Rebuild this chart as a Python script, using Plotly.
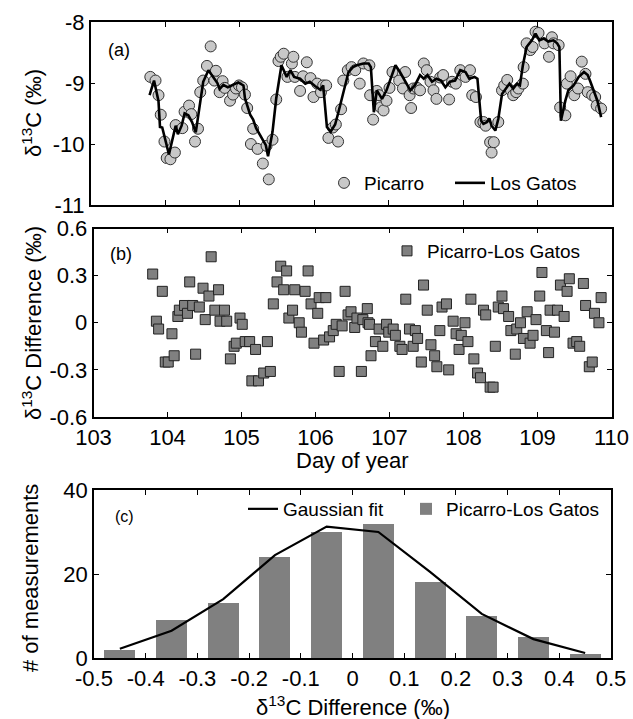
import plotly.graph_objects as go

# ---------------- data ----------------
picarro_day = [103.80, 103.87, 103.91, 103.94, 103.99, 104.02, 104.07, 104.13, 104.14, 104.23,
               104.26, 104.32, 104.35, 104.40, 104.44, 104.47, 104.51, 104.56, 104.61, 104.66,
               104.68, 104.73, 104.77, 104.80, 104.87, 104.91, 104.95, 104.99, 105.03, 105.07,
               105.10, 105.15, 105.18, 105.24, 105.31, 105.36, 105.39, 105.44, 105.49, 105.52,
               105.55, 105.59, 105.64, 105.70, 105.72, 105.74, 105.81, 105.85, 105.90, 105.95,
               105.99, 106.04, 106.09, 106.12, 106.16, 106.19, 106.25, 106.29, 106.32, 106.36,
               106.39, 106.45, 106.50, 106.55, 106.61, 106.66, 106.74, 106.75, 106.79, 106.84,
               106.87, 106.89, 106.93, 106.97, 107.01, 107.05, 107.14, 107.19, 107.22, 107.28,
               107.30, 107.33, 107.38, 107.42, 107.47, 107.51, 107.56, 107.60, 107.64, 107.69,
               107.73, 107.81, 107.85, 107.90, 107.96, 108.03, 108.09, 108.12, 108.17, 108.23,
               108.27, 108.30, 108.36, 108.38, 108.41, 108.47, 108.52, 108.55, 108.59, 108.64,
               108.67, 108.71, 108.74, 108.80, 108.81, 108.85, 108.90, 108.93, 108.97, 109.01,
               109.09, 109.15, 109.19, 109.21, 109.28, 109.30, 109.37, 109.39, 109.44, 109.49,
               109.54, 109.59, 109.64, 109.67, 109.73, 109.77, 109.79, 109.85]
picarro_d13c = [-8.90, -8.96, -9.20, -9.52, -9.96, -10.23, -10.25, -10.14, -9.69, -9.74,
                -9.47, -9.37, -9.51, -9.96, -9.75, -9.15, -8.96, -8.72, -8.40, -8.96,
                -8.80, -9.15, -8.97, -9.08, -9.29, -9.19, -9.09, -9.04, -9.07, -9.19,
                -9.41, -10.00, -9.75, -10.08, -10.32, -10.03, -10.58, -9.93, -9.27, -8.64,
                -8.57, -8.52, -8.90, -8.68, -8.57, -8.90, -9.13, -8.89, -8.66, -8.92,
                -9.23, -9.01, -9.15, -9.04, -9.04, -9.90, -9.73, -9.68, -9.96, -9.43,
                -8.96, -8.79, -8.74, -8.79, -9.01, -8.68, -8.71, -9.20, -9.60, -9.13,
                -9.20, -9.40, -9.45, -9.29, -9.08, -8.82, -8.96, -9.09, -8.82, -9.20,
                -9.41, -9.09, -9.08, -9.12, -8.68, -8.79, -8.98, -9.12, -9.26, -8.91,
                -8.87, -9.27, -8.98, -9.01, -8.79, -8.90, -8.79, -9.20, -9.23, -9.64,
                -9.64, -9.70, -9.97, -10.14, -9.97, -9.64, -9.12, -9.04, -8.95, -9.12,
                -9.20, -9.15, -9.09, -9.01, -8.74, -8.35, -8.46, -8.41, -8.16, -8.18,
                -8.35, -8.57, -8.25, -8.35, -8.38, -9.40, -9.53, -9.01, -8.89, -9.20,
                -9.09, -8.65, -8.85, -9.15, -9.20, -9.23, -9.37, -9.42]

losgatos_day = [103.79, 103.85, 103.91, 103.93, 103.96, 104.01, 104.05, 104.14, 104.17, 104.22,
                104.26, 104.31, 104.36, 104.41, 104.48, 104.51, 104.58, 104.64, 104.70, 104.73,
                104.78, 104.84, 104.91, 104.98, 105.05, 105.07, 105.14, 105.18, 105.22, 105.29,
                105.35, 105.38, 105.44, 105.49, 105.56, 105.63, 105.68, 105.73, 105.81, 105.88,
                105.94, 106.01, 106.08, 106.12, 106.17, 106.22, 106.28, 106.32, 106.39, 106.46,
                106.52, 106.57, 106.66, 106.73, 106.76, 106.80, 106.84, 106.91, 106.97, 107.03,
                107.09, 107.15, 107.22, 107.29, 107.35, 107.42, 107.47, 107.52, 107.58, 107.64,
                107.70, 107.76, 107.82, 107.89, 107.96, 108.03, 108.08, 108.15, 108.19, 108.24,
                108.27, 108.32, 108.35, 108.38, 108.43, 108.47, 108.52, 108.58, 108.62, 108.67,
                108.72, 108.76, 108.80, 108.85, 108.92, 108.97, 109.02, 109.08, 109.14, 109.21,
                109.26, 109.29, 109.31, 109.37, 109.41, 109.48, 109.55, 109.62, 109.67, 109.70,
                109.76, 109.80, 109.85]
losgatos_d13c = [-9.20, -8.96, -9.30, -9.72, -9.73, -10.00, -10.17, -9.70, -9.84, -9.70,
                 -9.50, -9.53, -9.64, -9.81, -9.24, -8.98, -8.79, -8.90, -9.00, -9.10,
                 -9.03, -9.07, -9.03, -8.99, -9.04, -9.25, -9.52, -9.60, -9.74, -9.88,
                 -10.02, -10.20, -9.80, -9.25, -8.71, -8.90, -8.79, -8.90, -8.93, -9.01,
                 -8.98, -9.05, -9.11, -9.04, -9.72, -9.80, -9.68, -9.50, -9.15, -8.82,
                 -8.74, -8.71, -8.68, -8.68, -8.74, -9.48, -9.12, -9.26, -9.12, -8.90,
                 -8.71, -8.82, -8.96, -9.12, -9.04, -8.87, -8.93, -8.87, -8.98, -8.93,
                 -8.96, -9.07, -8.98, -8.96, -8.79, -8.82, -8.93, -8.90, -8.93, -9.62,
                 -9.67, -9.64, -9.58, -9.70, -9.78, -9.59, -9.18, -9.07, -9.01, -9.09,
                 -9.01, -9.04, -8.71, -8.41, -8.30, -8.19, -8.30, -8.27, -8.32, -8.30,
                 -8.35, -8.41, -9.62, -9.29, -9.12, -9.04, -8.90, -8.82, -8.87, -8.96,
                 -9.18, -9.29, -9.56]

diff_day = [103.80, 103.85, 103.88, 103.93, 103.97, 104.01, 104.06, 104.09, 104.14, 104.16,
            104.23, 104.27, 104.30, 104.34, 104.38, 104.43, 104.48, 104.51, 104.56, 104.59,
            104.64, 104.69, 104.71, 104.77, 104.80, 104.85, 104.90, 104.93, 104.98, 105.01,
            105.05, 105.11, 105.14, 105.19, 105.23, 105.30, 105.35, 105.39, 105.43, 105.48,
            105.53, 105.57, 105.61, 105.64, 105.69, 105.72, 105.78, 105.81, 105.86, 105.90,
            105.94, 105.98, 106.03, 106.05, 106.11, 106.14, 106.19, 106.24, 106.28, 106.32,
            106.36, 106.40, 106.44, 106.48, 106.53, 106.56, 106.62, 106.64, 106.70, 106.71,
            106.73, 106.75, 106.81, 106.86, 106.91, 106.96, 106.99, 107.05, 107.08, 107.14,
            107.17, 107.22, 107.27, 107.32, 107.35, 107.38, 107.43, 107.46, 107.51, 107.56,
            107.61, 107.64, 107.68, 107.71, 107.77, 107.80, 107.86, 107.90, 107.94, 107.97,
            108.02, 108.06, 108.10, 108.14, 108.19, 108.23, 108.27, 108.30, 108.36, 108.40,
            108.43, 108.47, 108.52, 108.54, 108.61, 108.64, 108.70, 108.72, 108.77, 108.81,
            108.86, 108.90, 108.94, 108.98, 109.03, 109.06, 109.12, 109.15, 109.17, 109.23,
            109.27, 109.31, 109.36, 109.40, 109.43, 109.48, 109.53, 109.57, 109.62, 109.65,
            109.70, 109.74, 109.77, 109.83, 109.86]
diff_val = [0.31, 0.01, -0.04, 0.20, -0.25, -0.25, -0.07, -0.21, 0.04, 0.08,
            0.11, 0.06, 0.26, 0.11, -0.20, 0.10, 0.22, 0.02, 0.17, 0.42,
            0.08, 0.21, 0.01, 0.08, 0.01, -0.23, -0.15, -0.13, 0.03, -0.01,
            -0.12, -0.12, -0.37, -0.17, -0.37, -0.32, -0.12, -0.31, 0.12, 0.26,
            0.36, 0.21, 0.33, 0.03, 0.08, 0.21, 0.00, -0.06, 0.20, 0.33,
            0.12, -0.13, 0.06, 0.16, -0.11, 0.16, -0.09, -0.05, -0.01, -0.31,
            -0.02, 0.20, 0.05, 0.07, -0.03, 0.03, -0.31, 0.02, 0.09, 0.00,
            -0.01, -0.21, -0.12, -0.04, -0.15, -0.01, -0.06, -0.04, -0.08, -0.15,
            -0.17, 0.15, -0.04, -0.15, -0.05, -0.10, -0.25, 0.24, 0.08, -0.14,
            -0.21, -0.28, -0.05, 0.10, 0.12, -0.30, 0.01, -0.07, -0.17, -0.08,
            0.00, -0.12, 0.15, -0.23, -0.32, -0.35, 0.08, 0.05, -0.41, -0.41,
            -0.15, 0.10, 0.17, 0.09, 0.04, -0.05, -0.20, -0.04, 0.00, -0.10,
            0.07, -0.13, -0.08, 0.02, 0.17, 0.32, -0.05, -0.19, 0.08, -0.06,
            0.08, 0.24, 0.04, 0.20, 0.28, -0.13, -0.12, -0.15, 0.25, 0.11,
            -0.28, -0.25, 0.06, 0.00, 0.16]

hist_bins = [-0.45, -0.35, -0.25, -0.15, -0.05, 0.05, 0.15, 0.25, 0.35, 0.45]
hist_counts = [2, 9, 13, 24, 30, 32, 18, 10, 5, 1]
gauss_fit = [2.2, 6.5, 14.0, 24.5, 31.3, 30.0, 20.5, 10.5, 4.5, 1.2]

day_ticks = [103, 104, 105, 106, 107, 108, 109, 110]
d13c_ticks = [-11, -10, -9, -8]
diff_ticks = [-0.6, -0.3, 0, 0.3, 0.6]
diff_tick_text = ["-0.6", "-0.3", "0", "0.3", "0.6"]
hist_xticks = [-0.5, -0.4, -0.3, -0.2, -0.1, 0, 0.1, 0.2, 0.3, 0.4, 0.5]
hist_xtick_text = ["-0.5", "-0.4", "-0.3", "-0.2", "-0.1", "0", "0.1", "0.2", "0.3", "0.4", "0.5"]
hist_yticks = [0, 20, 40]

# ---------------- figure ----------------
W, H = 633, 719
FONT = "Liberation Sans, Arial, sans-serif"

def px(x):
    return x / W

def py(y):
    return 1 - y / H

fig = go.Figure()

fig.add_trace(go.Scatter(x=picarro_day, y=picarro_d13c, mode="markers", name="Picarro",
                         marker=dict(symbol="circle", size=11, color="#c8c8c8",
                                     line=dict(color="#333333", width=1)),
                         xaxis="x", yaxis="y", legend="legend"))
fig.add_trace(go.Scatter(x=losgatos_day, y=losgatos_d13c, mode="lines", name="Los Gatos",
                         line=dict(color="black", width=2.6),
                         xaxis="x", yaxis="y", legend="legend2"))
fig.add_trace(go.Scatter(x=diff_day, y=diff_val, mode="markers", name="Picarro-Los Gatos",
                         marker=dict(symbol="square", size=10, color="#808080",
                                     line=dict(color="#222222", width=1)),
                         xaxis="x2", yaxis="y2", legend="legend3"))
fig.add_trace(go.Bar(x=hist_bins, y=hist_counts, width=0.06, name="Picarro-Los Gatos",
                     marker=dict(color="#808080", line=dict(width=0)),
                     xaxis="x3", yaxis="y3", legend="legend5"))
fig.add_trace(go.Scatter(x=hist_bins, y=gauss_fit, mode="lines", name="Gaussian fit",
                         line=dict(color="black", width=2.2),
                         xaxis="x3", yaxis="y3", legend="legend4"))

axis_common = dict(showline=True, linecolor="black", linewidth=1.5, mirror="ticks",
                   ticks="inside", ticklen=5, tickwidth=1, tickcolor="black",
                   showgrid=False, zeroline=False, automargin=False,
                   tickfont=dict(family=FONT, size=22, color="black"))

legend_common = dict(bgcolor="rgba(0,0,0,0)", borderwidth=0, orientation="h",
                     xanchor="left", yanchor="middle",
                     font=dict(family=FONT, size=19, color="black"))

fig.update_layout(
    width=W, height=H,
    margin=dict(l=0, r=0, t=0, b=0),
    paper_bgcolor="white", plot_bgcolor="white",
    font=dict(family=FONT, size=18, color="black"),
    showlegend=True,
    bargap=0,
    xaxis=dict(axis_common, domain=[px(90.7), px(612.3)], range=[103, 110],
               tickvals=day_ticks, showticklabels=False, anchor="y"),
    yaxis=dict(axis_common, domain=[py(205), py(22)], range=[-11, -8],
               tickvals=d13c_ticks, ticktext=[str(v) for v in d13c_ticks], anchor="x"),
    xaxis2=dict(axis_common, domain=[px(93.5), px(611.5)], range=[103, 110],
                tickvals=day_ticks, ticktext=[str(v) for v in day_ticks], anchor="y2"),
    yaxis2=dict(axis_common, domain=[py(417), py(228.5)], range=[-0.6, 0.6],
                tickvals=diff_ticks, ticktext=diff_tick_text, anchor="x2"),
    xaxis3=dict(axis_common, domain=[px(94), px(611)], range=[-0.5, 0.5],
                tickvals=hist_xticks, ticktext=hist_xtick_text, anchor="y3"),
    yaxis3=dict(axis_common, domain=[py(658), py(490)], range=[0, 40],
                tickvals=hist_yticks, ticktext=[str(v) for v in hist_yticks], anchor="x3"),
    legend=dict(legend_common, x=px(324), y=py(183)),
    legend2=dict(legend_common, x=px(450), y=py(183)),
    legend3=dict(legend_common, x=px(387), y=py(251)),
    legend4=dict(legend_common, x=px(243), y=py(509)),
    legend5=dict(legend_common, x=px(406), y=py(509)),
)

def ann(text, x, y, size=22, angle=0, xanchor="center"):
    fig.add_annotation(text=text, x=px(x), y=py(y), xref="paper", yref="paper",
                       showarrow=False, textangle=angle, xanchor=xanchor, yanchor="middle",
                       font=dict(family=FONT, size=size, color="black"))

ann("(a)", 106, 49.5, size=18, xanchor="left")
ann("(b)", 108, 254, size=18, xanchor="left")
ann("(c)", 113, 516.5, size=16, xanchor="left")
ann("δ<sup>13</sup>C (‰)", 32, 113, angle=-90)
ann("δ<sup>13</sup>C Difference (‰)", 32, 323, angle=-90)
ann("# of measurements", 30, 578, angle=-90)
ann("Day of year", 352, 460)
ann("δ<sup>13</sup>C Difference (‰)", 352.5, 706)

fig.write_html("out.html", config={"displayModeBar": False},
               post_script="document.body.style.margin='0';document.body.style.padding='0';")
